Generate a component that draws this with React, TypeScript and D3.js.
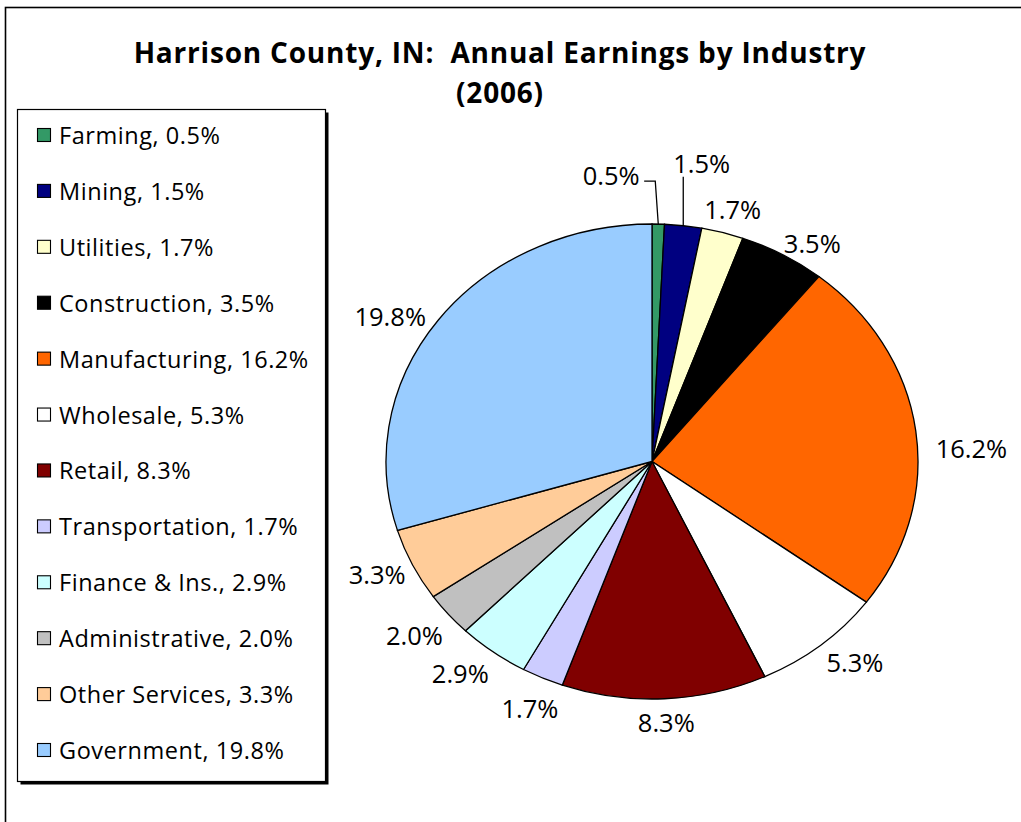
import * as d3 from 'd3';

const industries = [
  'Farming',
  'Mining',
  'Utilities',
  'Construction',
  'Manufacturing',
  'Wholesale',
  'Retail',
  'Transportation',
  'Finance & Ins.',
  'Administrative',
  'Other Services',
  'Government',
];
const shares = [0.5, 1.5, 1.7, 3.5, 16.2, 5.3, 8.3, 1.7, 2.9, 2.0, 3.3, 19.8];
const colors = [
  '#339966',
  '#000080',
  '#FFFFCC',
  '#000000',
  '#FF6600',
  '#FFFFFF',
  '#800000',
  '#CCCCFF',
  '#CCFFFF',
  '#C0C0C0',
  '#FFCC99',
  '#99CCFF',
];

// where Excel pushed a label away from its default spot (px)
const labelNudge: [number, number][] = [
  [-48, -29], [14, -43], [0, -4], [11, 6], [11, 20], [10, 2],
  [0, 3], [3, 12], [-10, 5], [-5, 8], [-1, 1], [-12, 8],
];

const W = 1021;
const H = 822;
const cx = 652;
const cy = 461.5;
const rx = 266;
const ry = 237.5;
const FONT = "'Open Sans', 'Noto Sans', sans-serif";

type Row = { name: string; value: number; color: string };
const rows: Row[] = industries.map((name, i) => ({ name, value: shares[i], color: colors[i] }));

export default function App() {
  const pie = d3.pie<Row>().value((d) => d.value).sort(null);
  const arcs = pie(rows);
  const arc = d3.arc<d3.PieArcDatum<Row>>().innerRadius(0).outerRadius(ry);

  const legendY = d3.scalePoint<string>().domain(industries).range([135, 750]);

  return (
    <svg
      width={W}
      height={H}
      viewBox={`0 0 ${W} ${H}`}
      style={{ position: 'absolute', left: 0, top: 0, background: '#fff' }}
    >
      {/* chart frame */}
      <rect x={5.5} y={7.5} width={W + 10} height={H + 10} fill="#fff" stroke="#000" strokeWidth={1.6} />

      <text x={500} y={63} textAnchor="middle" fontFamily={FONT} fontWeight="bold" fontSize={28} letterSpacing={0.8}>
        Harrison County, IN:{'\u00a0\u00a0'}Annual Earnings by Industry
      </text>
      <text x={500} y={102.5} textAnchor="middle" fontFamily={FONT} fontWeight="bold" fontSize={28} letterSpacing={0.8}>
        (2006)
      </text>

      {/* pie, stretched horizontally like the original */}
      <g transform={`translate(${cx},${cy}) scale(${rx / ry},1)`}>
        {arcs.map((a, i) => (
          <path
            key={i}
            d={arc(a) || ''}
            fill={a.data.color}
            stroke="#000"
            strokeWidth={1.3}
            vectorEffect="non-scaling-stroke"
          />
        ))}
      </g>

      {arcs.map((a, i) => {
        const mid = (a.startAngle + a.endAngle) / 2;
        const s = Math.sin(mid);
        const c = -Math.cos(mid);
        const px = cx + s * rx;
        const py = cy + c * ry;
        const label = `${a.data.value.toFixed(1)}%`;
        const halfW = label.length * 7;
        const [nx, ny] = labelNudge[i];
        const lx = px + s * (10 + halfW) + nx;
        const ly = py + c * 20 + ny;
        let leader: string | null = null;
        if (Math.hypot(nx, ny) > 30) {
          if (px > lx - halfW && px < lx + halfW) {
            leader = d3.line()([[px, ly + 14], [px, py]]);
          } else {
            leader = d3.line()([[lx + halfW + 5, ly + 6], [px - 3, ly + 6], [px, py]]);
          }
        }
        return (
          <g key={i}>
            {leader && <path d={leader} fill="none" stroke="#000" strokeWidth={1.3} />}
            <text
              x={lx}
              y={ly}
              textAnchor="middle"
              dominantBaseline="central"
              fontFamily={FONT}
              fontSize={25.5}
              fill="#000"
            >
              {label}
            </text>
          </g>
        );
      })}

      {/* legend */}
      <rect x={20.5} y={112.5} width={308} height={672} fill="#000" />
      <rect x={17.5} y={109.5} width={308} height={672} fill="#fff" stroke="#000" strokeWidth={1.2} />
      {rows.map((r, i) => {
        const y = legendY(r.name) as number;
        return (
          <g key={i}>
            <rect x={37.5} y={y - 6.5} width={13} height={13} fill={r.color} stroke="#000" strokeWidth={1.1} />
            <text x={59} y={y} dominantBaseline="central" fontFamily={FONT} fontSize={23.5} letterSpacing={0.55}>
              {`${r.name}, ${r.value.toFixed(1)}%`}
            </text>
          </g>
        );
      })}
    </svg>
  );
}
